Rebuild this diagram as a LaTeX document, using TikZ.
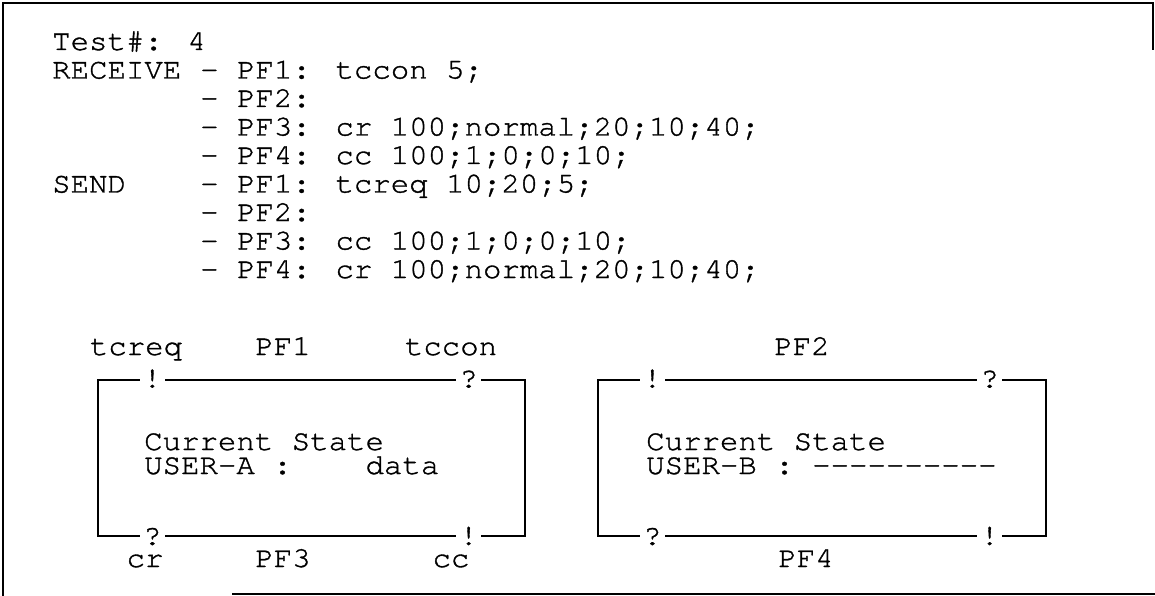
\documentclass[tikz,border=0pt]{standalone}
\usepackage{fontspec}
\newfontfamily\scanfont{texgyrecursor-regular.otf}[FakeStretch=1.06,FakeBold=1.2]

\begin{document}
\begin{tikzpicture}[x=1pt,y=-1pt]
   \tikzset{txt/.style={anchor=base west, inner sep=0pt, font=\scanfont\fontsize{29}{29}\selectfont}}
   \tikzset{lbl/.style={anchor=base, inner sep=0pt, font=\scanfont\fontsize{29}{29}\selectfont}}
   \tikzset{portmark/.style={fill=white, inner xsep=3pt, inner ysep=0pt, text height=16pt, text depth=0pt, font=\scanfont\fontsize{29}{29}\selectfont}}
   \tikzset{statebox/.style={draw, line width=1.3pt, minimum width=427pt, minimum height=156pt, inner sep=0pt}}
   \useasboundingbox (0,0) rectangle (1155,596);
   \draw[line width=1.5pt] (1153,50) -- (1153,3) -- (3,3) -- (3,596);
   \draw[line width=1.5pt] (232,594) -- (1155,594);
   \node[txt] (test) at (52,50) {Test\#: 4};
   \node[txt] (recv) at (52,78.5) {RECEIVE};
   \node[txt] (recv1) at (200,78.5) {- PF1: tccon 5;};
   \node[txt] (recv2) at (200,107) {- PF2:};
   \node[txt] (recv3) at (200,135.5) {- PF3: cr 100;normal;20;10;40;};
   \node[txt] (recv4) at (200,164) {- PF4: cc 100;1;0;0;10;};
   \node[txt] (send) at (52,192.5) {SEND};
   \node[txt] (send1) at (200,192.5) {- PF1: tcreq 10;20;5;};
   \node[txt] (send2) at (200,221) {- PF2:};
   \node[txt] (send3) at (200,249.5) {- PF3: cc 100;1;0;0;10;};
   \node[txt] (send4) at (200,278) {- PF4: cr 100;normal;20;10;40;};
   \node[statebox] (boxA) at (311.5,458) {};
   \node[statebox, minimum width=448pt] (boxB) at (822,458) {};
   \node[portmark] (aOut1) at ([xshift=55pt]boxA.north west) {!};
   \node[portmark] (aIn1) at ([xshift=-57pt]boxA.north east) {?};
   \node[portmark] (aIn3) at ([xshift=55pt]boxA.south west) {?};
   \node[portmark] (aOut3) at ([xshift=-57pt]boxA.south east) {!};
   \node[portmark] (bOut2) at ([xshift=55pt]boxB.north west) {!};
   \node[portmark] (bIn2) at ([xshift=-57pt]boxB.north east) {?};
   \node[portmark] (bIn4) at ([xshift=55pt]boxB.south west) {?};
   \node[portmark] (bOut4) at ([xshift=-57pt]boxB.south east) {!};
   \node[lbl] (tcreq) at (136,355) {tcreq};
   \node[lbl] (pf1) at (283,355) {PF1};
   \node[lbl] (tccon) at (451,355) {tccon};
   \node[lbl] (pf2) at (802,355) {PF2};
   \node[lbl] (cr) at (145,567) {cr};
   \node[lbl] (pf3) at (283,567) {PF3};
   \node[lbl] (cc) at (451,567) {cc};
   \node[lbl] (pf4) at (806,567) {PF4};
   \node[txt] (stateA) at (144,450) {Current State};
   \node[txt] (userA) at (144,474) {USER-A :~~~~data};
   \node[txt] (stateB) at (646,450) {Current State};
   \node[txt] (userB) at (646,474) {USER-B : ----------};
\end{tikzpicture}
\end{document}
